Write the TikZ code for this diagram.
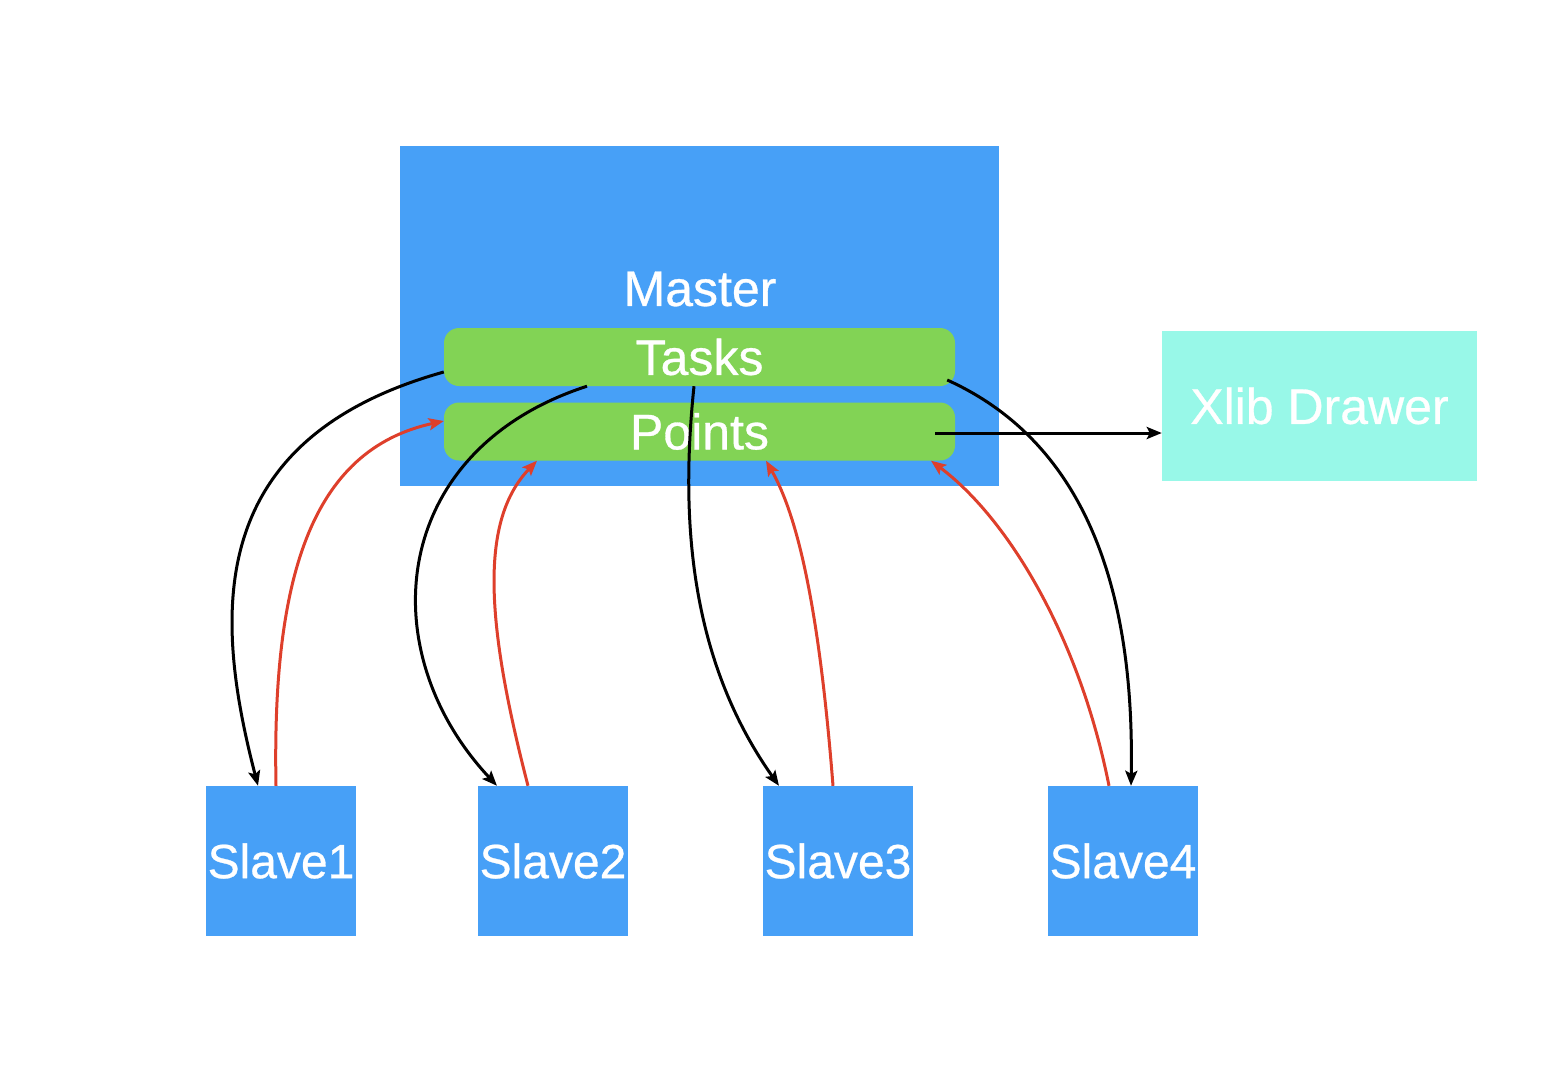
\documentclass[tikz,border=0pt]{standalone}
\usepackage{fontspec}
\setmainfont{Liberation Sans}
\newfontfamily\medfont[FakeBold=0.6]{Liberation Sans}
\usetikzlibrary{arrows.meta}
\definecolor{mblue}{HTML}{47A0F7}
\definecolor{mgreen}{HTML}{82D355}
\definecolor{mcyan}{HTML}{98F8E8}
\definecolor{mred}{HTML}{DE3F2B}
\begin{document}
\begin{tikzpicture}[x=1pt,y=-1pt,
  lbl/.style={text=white, font=\medfont\fontsize{50}{60}\selectfont, inner sep=0pt},
  bluebox/.style={lbl, fill=mblue, minimum width=150pt, minimum height=150pt},
  slavebox/.style={bluebox, font=\medfont\fontsize{48}{58}\selectfont, text width=150pt, align=center},
  greenbar/.style={lbl, fill=mgreen, rounded corners=15pt, minimum width=511pt, minimum height=58pt},
  blackarr/.style={draw=black, line width=3pt, -{Stealth[length=15pt,width=12pt,inset=3pt]}},
  redarr/.style={draw=mred, line width=3pt, -{Stealth[length=15pt,width=12pt,inset=3pt]}}
]
\useasboundingbox (0,0) rectangle (1556,1074);
% master
\node[bluebox, minimum width=599pt, minimum height=340pt] (master) at (699.5,316) {};
\node[lbl] (mastertxt) at (700,289) {Master};
\node[greenbar] (tasks) at (699.5,357) {Tasks};
\node[greenbar] (points) at (699.5,431.5) {Points};
% xlib
\node[lbl, fill=mcyan, minimum width=315pt, minimum height=150pt] (xlib) at (1319.5,406) {Xlib Drawer};
% slaves
\node[slavebox] (slave1) at (281,861) {Slave1};
\node[slavebox] (slave2) at (553,861) {Slave2};
\node[slavebox] (slave3) at (838,861) {Slave3};
\node[slavebox] (slave4) at (1123,861) {Slave4};
% black: tasks -> slaves
\draw[blackarr] ([yshift=-15pt]tasks.west) .. controls (200,440) and (215,620) .. ([xshift=-23pt]slave1.north);
\draw[blackarr] ([xshift=-112.5pt]tasks.south) .. controls (390,450) and (370,650) .. ([xshift=-56pt]slave2.north);
\draw[blackarr] ([xshift=-5.5pt]tasks.south) .. controls (680,520) and (690,660) .. ([xshift=-59pt]slave3.north);
\draw[blackarr] ([xshift=-8pt,yshift=-23pt]tasks.east) .. controls (1080,440) and (1135,580) .. ([xshift=8pt]slave4.north);
% points -> xlib
\draw[blackarr] ([xshift=-20pt,yshift=-1.5pt]points.east) -- ([yshift=-27pt]xlib.west);
% red: slaves -> points
\draw[redarr] ([xshift=-5pt]slave1.north) .. controls (272,580) and (310,450) .. ([yshift=10.5pt]points.west);
\draw[redarr] ([xshift=-25pt]slave2.north) .. controls (485,620) and (480,520) .. ([xshift=-162.5pt]points.south);
\draw[redarr] ([xshift=-5pt]slave3.north) .. controls (820,620) and (800,520) .. ([xshift=66.5pt]points.south);
\draw[redarr] ([xshift=-14pt]slave4.north) .. controls (1080,640) and (1010,520) .. ([xshift=231.5pt]points.south);
\end{tikzpicture}
\end{document}
